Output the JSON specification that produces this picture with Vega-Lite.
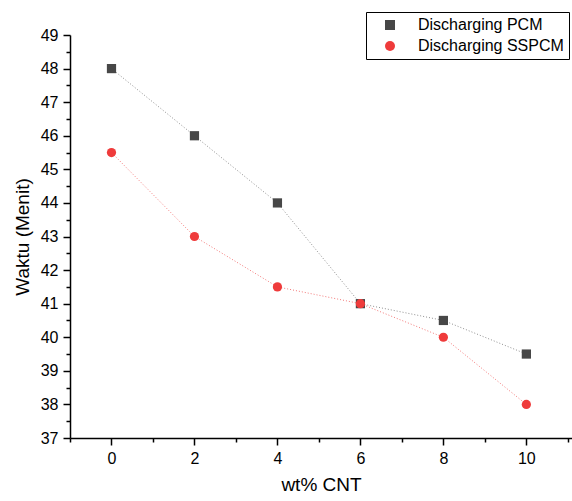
{
  "$schema": "https://vega.github.io/schema/vega-lite/v6.json",
  "width": 502,
  "height": 403,
  "autosize": {"type": "none"},
  "padding": {"left": 70, "top": 35, "right": 0, "bottom": 63},
  "background": "white",
  "config": {
    "view": {"stroke": null},
    "font": "Liberation Sans",
    "axis": {"grid": false, "domainColor": "black", "tickColor": "black", "labelColor": "black", "titleColor": "black", "labelFont": "Liberation Sans", "titleFont": "Liberation Sans", "titleFontWeight": "normal", "labelFontSize": 16, "titleFontSize": 19}
  },
  "data": {
    "values": [
      {"x": 0, "y": 48, "s": "Discharging PCM"},
      {"x": 2, "y": 46, "s": "Discharging PCM"},
      {"x": 4, "y": 44, "s": "Discharging PCM"},
      {"x": 6, "y": 41, "s": "Discharging PCM"},
      {"x": 8, "y": 40.5, "s": "Discharging PCM"},
      {"x": 10, "y": 39.5, "s": "Discharging PCM"},
      {"x": 0, "y": 45.5, "s": "Discharging SSPCM"},
      {"x": 2, "y": 43, "s": "Discharging SSPCM"},
      {"x": 4, "y": 41.5, "s": "Discharging SSPCM"},
      {"x": 6, "y": 41, "s": "Discharging SSPCM"},
      {"x": 8, "y": 40, "s": "Discharging SSPCM"},
      {"x": 10, "y": 38, "s": "Discharging SSPCM"}
    ]
  },
  "layer": [
    {
      "mark": {"type": "point", "opacity": 0},
      "encoding": {
        "x": {"field": "x", "type": "quantitative", "scale": {"domain": [-1, 11.1], "nice": false, "zero": false},
          "axis": {"orient": "bottom", "values": [-1, 1, 3, 5, 7, 9, 11], "labels": false, "domain": false, "tickSize": 4, "tickWidth": 1.5, "title": null}},
        "y": {"field": "y", "type": "quantitative", "scale": {"domain": [37, 49], "nice": false, "zero": false},
          "axis": {"orient": "left", "values": [37.5, 38.5, 39.5, 40.5, 41.5, 42.5, 43.5, 44.5, 45.5, 46.5, 47.5, 48.5], "labels": false, "domain": false, "tickSize": 4, "tickWidth": 1.5, "title": null}}
      }
    },
    {
      "transform": [{"filter": "datum.s === 'Discharging PCM'"}],
      "mark": {"type": "line", "strokeDash": [1, 2], "strokeWidth": 1, "color": "#8f8f8f"},
      "encoding": {
        "x": {"field": "x", "type": "quantitative",
          "axis": {"orient": "bottom", "values": [0, 2, 4, 6, 8, 10], "tickSize": 7, "tickWidth": 1.5, "domainWidth": 1.5, "labelPadding": 5, "title": "wt% CNT", "titlePadding": 9}},
        "y": {"field": "y", "type": "quantitative",
          "axis": {"orient": "left", "values": [37, 38, 39, 40, 41, 42, 43, 44, 45, 46, 47, 48, 49], "tickSize": 7, "tickWidth": 1.5, "domainWidth": 1.5, "labelPadding": 5, "title": "Waktu (Menit)", "titlePadding": 8}}
      }
    },
    {
      "transform": [{"filter": "datum.s === 'Discharging SSPCM'"}],
      "mark": {"type": "line", "strokeDash": [1, 2], "strokeWidth": 1, "color": "#f47a7a"},
      "encoding": {
        "x": {"field": "x", "type": "quantitative", "axis": null},
        "y": {"field": "y", "type": "quantitative", "axis": null}
      }
    },
    {
      "mark": {"type": "point", "filled": true, "opacity": 1, "strokeWidth": 0},
      "encoding": {
        "x": {"field": "x", "type": "quantitative", "axis": null},
        "y": {"field": "y", "type": "quantitative", "axis": null},
        "color": {"field": "s", "type": "nominal", "scale": {"domain": ["Discharging PCM", "Discharging SSPCM"], "range": ["#474747", "#ef3b3b"]},
          "legend": {"title": null, "orient": "none", "legendX": 296, "legendY": -23, "strokeColor": "black", "fillColor": "white", "padding": 5, "labelFontSize": 16, "labelFont": "Liberation Sans", "labelColor": "black", "symbolSize": 100, "rowPadding": 5, "labelOffset": 20, "symbolOffset": 11,
            "encode": {"symbols": {"update": {
              "shape": {"value": {"expr": "datum.value === 'Discharging PCM' ? 'M-3.6,0L-0.9,0M-0.9,-0.9L0.9,-0.9L0.9,0.9L-0.9,0.9ZM0.9,0L3.6,0' : 'M-3.6,0L-1,0M-1,0A1,1 0 1,1 1,0A1,1 0 1,1 -1,0ZM1,0L3.6,0'"}},
              "stroke": {"value": {"expr": "datum.value === 'Discharging PCM' ? '#a0a0a0' : '#f78a8a'"}},
              "strokeWidth": {"value": 1},
              "strokeDash": {"value": [1, 2]},
              "opacity": {"value": 1}
            }}}}},
        "shape": {"field": "s", "type": "nominal", "scale": {"domain": ["Discharging PCM", "Discharging SSPCM"], "range": ["square", "circle"]}, "legend": null},
        "size": {"value": 85}
      }
    }
  ],
  "resolve": {"axis": {"x": "independent", "y": "independent"}}
}
